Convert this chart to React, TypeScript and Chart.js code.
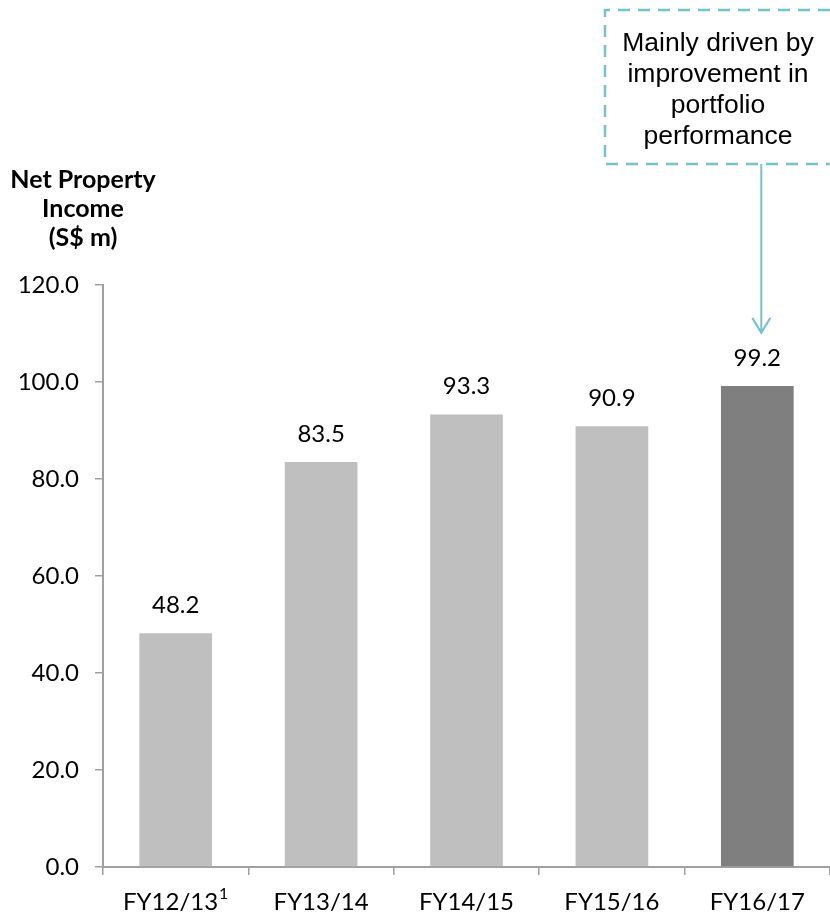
import React, { useEffect, useRef } from "react";
import { Chart, registerables } from "chart.js";

Chart.register(...registerables);

const categories = ["FY12/13", "FY13/14", "FY14/15", "FY15/16", "FY16/17"];
const footnotes = ["1", "", "", "", ""];
const values = [48.2, 83.5, 93.3, 90.9, 99.2];
const barColors = ["#BFBFBF", "#BFBFBF", "#BFBFBF", "#BFBFBF", "#7F7F7F"];
const titleLines = ["Net Property", "Income", "(S$ m)"];
const noteLines = ["Mainly driven by", "improvement in", "portfolio", "performance"];

const TEAL = "#74C3C9";

const overlayPlugin = {
  id: "overlay",
  afterDraw(chart: any) {
    const ctx = chart.ctx;
    const xs = chart.scales.x;
    const meta = chart.getDatasetMeta(0);
    ctx.save();
    // value labels
    ctx.fillStyle = "#000";
    ctx.font = "24px Lato";
    ctx.textAlign = "center";
    ctx.textBaseline = "middle";
    meta.data.forEach((bar: any, i: number) => {
      ctx.fillText(values[i].toFixed(1), bar.x, bar.y - 28);
    });
    // x tick labels with superscripts
    categories.forEach((c, i) => {
      const cx = xs.getPixelForValue(i);
      ctx.font = "24px Lato";
      const w = ctx.measureText(c).width;
      ctx.font = "16px Lato";
      const sw = footnotes[i] ? ctx.measureText(footnotes[i]).width + 1 : 0;
      const left = cx - (w + sw) / 2;
      ctx.textAlign = "left";
      ctx.textBaseline = "alphabetic";
      ctx.font = "24px Lato";
      ctx.fillText(c, left, 910);
      if (footnotes[i]) {
        ctx.font = "16px Lato";
        ctx.fillText(footnotes[i], left + w + 1, 899);
      }
    });
    ctx.textAlign = "center";
    ctx.textBaseline = "middle";
    // title
    ctx.font = "bold 25px Lato";
    titleLines.forEach((t, i) => ctx.fillText(t, 83, 180 + i * 29));
    // annotation box
    ctx.strokeStyle = TEAL;
    ctx.lineWidth = 2.5;
    ctx.setLineDash([12, 8]);
    ctx.beginPath();
    ctx.moveTo(850, 10);
    ctx.lineTo(605, 10);
    ctx.lineTo(605, 164);
    ctx.lineTo(850, 164);
    ctx.stroke();
    ctx.setLineDash([]);
    ctx.fillStyle = "#000";
    ctx.font = "26.5px 'Liberation Sans'";
    noteLines.forEach((t, i) => ctx.fillText(t, 718, 44 + i * 31));
    // arrow
    const last = meta.data[meta.data.length - 1];
    const ax = last.x + 4;
    const tipY = last.y - 53;
    ctx.lineWidth = 2;
    ctx.beginPath();
    ctx.moveTo(ax, 164);
    ctx.lineTo(ax, tipY);
    ctx.moveTo(ax - 9, tipY - 15);
    ctx.lineTo(ax, tipY);
    ctx.lineTo(ax + 9, tipY - 15);
    ctx.stroke();
    ctx.restore();
  },
};

export default function App() {
  const ref = useRef<HTMLCanvasElement>(null);
  useEffect(() => {
    const chart = new Chart(ref.current!, {
      type: "bar",
      data: {
        labels: categories,
        datasets: [
          {
            data: values,
            backgroundColor: barColors,
            barPercentage: 0.5,
            categoryPercentage: 1,
          },
        ],
      },
      options: {
        animation: false,
        responsive: false,
        layout: { padding: { top: 285, left: 0, right: 0, bottom: 0 } },
        plugins: { legend: { display: false }, tooltip: { enabled: false } },
        scales: {
          x: {
            offset: true,
            grid: {
              offset: true,
              drawOnChartArea: false,
              drawTicks: true,
              tickLength: 8,
              color: "#A0A0A0",
              lineWidth: 1.5,
            },
            border: { color: "#A0A0A0", width: 2 },
            ticks: { color: "rgba(0,0,0,0)", font: { family: "Lato", size: 24 }, padding: 4 },
            afterFit: (s: any) => {
              s.height = 49;
            },
          },
          y: {
            min: 0,
            max: 120,
            ticks: {
              stepSize: 20,
              color: "#000",
              font: { family: "Lato", size: 24 },
              padding: 16,
              callback: (v: any) => Number(v).toFixed(1),
            },
            grid: {
              drawOnChartArea: false,
              drawTicks: true,
              tickLength: 8,
              color: "#A0A0A0",
              lineWidth: 1.5,
            },
            border: { color: "#A0A0A0", width: 2 },
            afterFit: (s: any) => {
              s.width = 103;
            },
          },
        },
      },
      plugins: [overlayPlugin],
    });
    return () => chart.destroy();
  }, []);
  return (
    <div style={{ position: "absolute", left: 0, top: 0 }}>
      <canvas ref={ref} width={830} height={916} style={{ display: "block" }} />
    </div>
  );
}
